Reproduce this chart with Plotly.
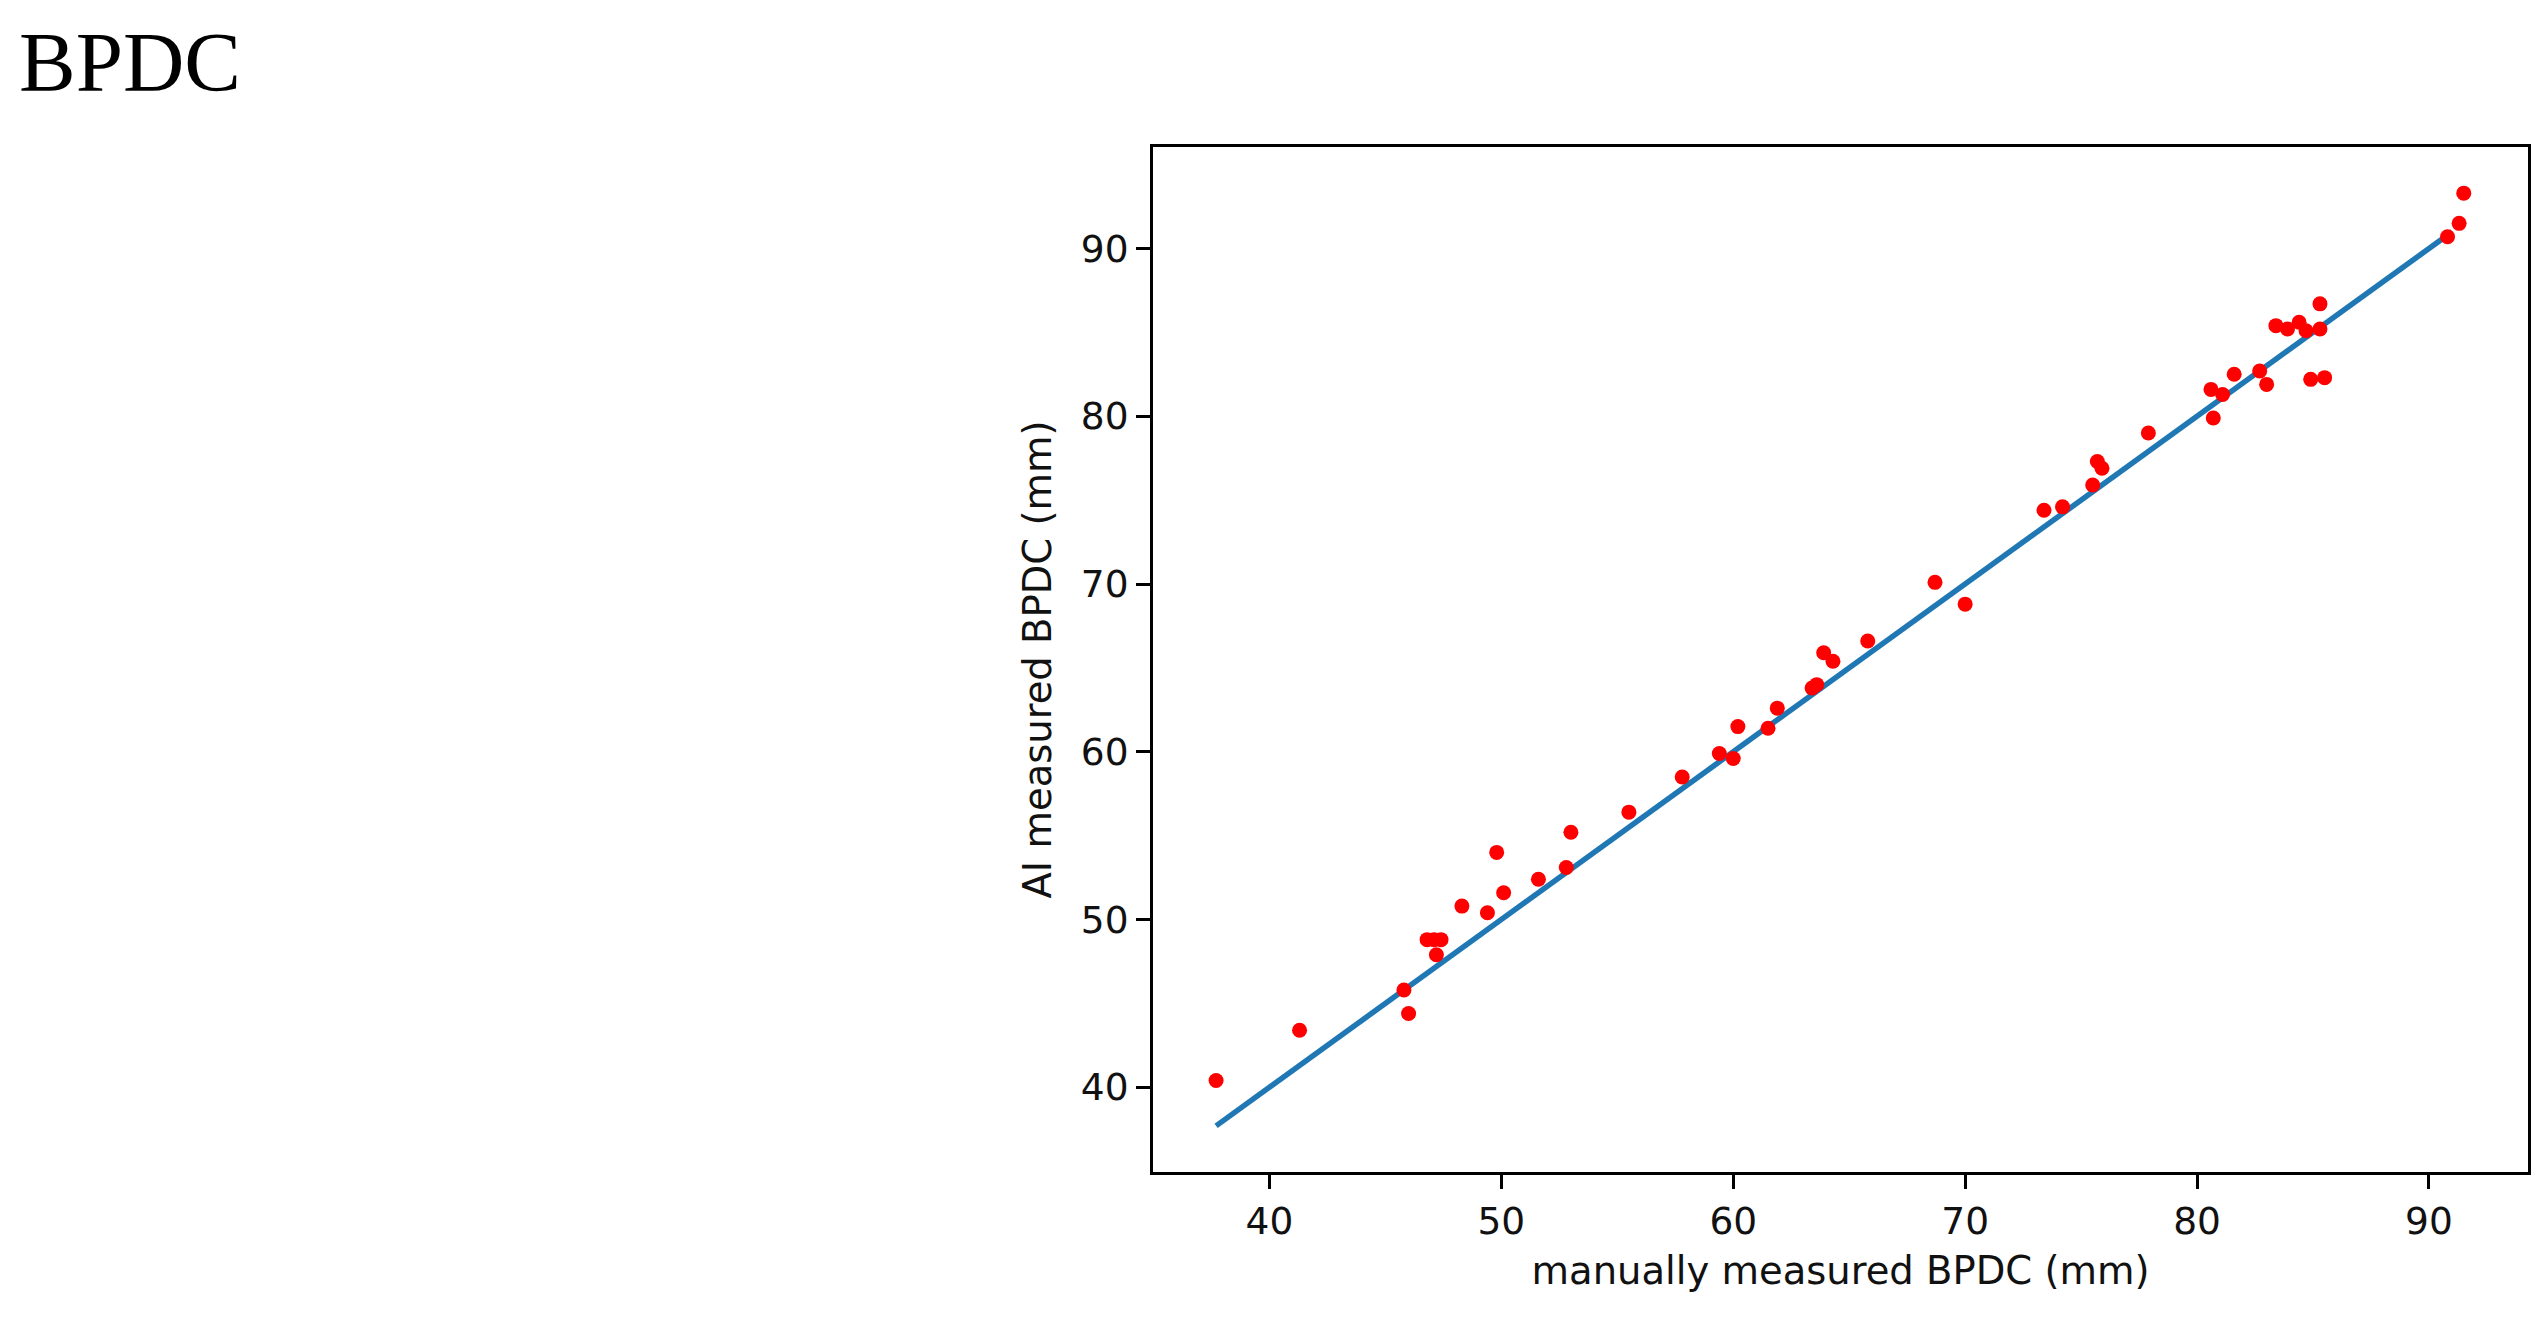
import plotly.graph_objects as go

# manually measured BPDC (mm)
manual_bpdc = [
    37.7, 41.3, 45.8, 46.0, 46.8, 47.1, 47.4, 47.2, 48.3, 49.4,
    49.8, 50.1, 51.6, 52.8, 53.0, 55.5, 57.8, 59.4, 60.0, 60.2,
    61.5, 61.9, 63.4, 63.6, 63.9, 64.3, 65.8, 68.7, 70.0, 73.4,
    74.2, 75.5, 75.7, 75.9, 77.9, 80.6, 80.7, 81.1, 81.6, 82.7,
    83.0, 83.4, 83.9, 84.4, 84.7, 84.9, 85.3, 85.3, 85.5, 90.8,
    91.3, 91.5,
]
# AI measured BPDC (mm)
ai_bpdc = [
    40.4, 43.4, 45.8, 44.4, 48.8, 48.8, 48.8, 47.9, 50.8, 50.4,
    54.0, 51.6, 52.4, 53.1, 55.2, 56.4, 58.5, 59.9, 59.6, 61.5,
    61.4, 62.6, 63.8, 64.0, 65.9, 65.4, 66.6, 70.1, 68.8, 74.4,
    74.6, 75.9, 77.3, 76.9, 79.0, 81.6, 79.9, 81.3, 82.5, 82.7,
    81.9, 85.4, 85.2, 85.6, 85.1, 82.2, 86.7, 85.2, 82.3, 90.7,
    91.5, 93.3,
]
# identity line
line_x = [37.7, 91.0]
line_y = [37.7, 91.0]

ticks = [40, 50, 60, 70, 80, 90]

# page body has an 8px margin, so the figure is 16px smaller than the window
W, H = 2532, 1315
L, R, T, B = 1145, 9, 139, 151

fig = go.Figure()
fig.add_trace(go.Scatter(
    x=line_x, y=line_y, mode="lines",
    line=dict(color="#1f77b4", width=5.5),
    showlegend=False,
))
fig.add_trace(go.Scatter(
    x=manual_bpdc, y=ai_bpdc, mode="markers",
    marker=dict(color="#ff0000", size=15, line=dict(width=0)),
    showlegend=False,
))

axis_style = dict(
    showgrid=False, zeroline=False,
    showline=True, mirror=True, linecolor="black", linewidth=3,
    ticks="outside", ticklen=14, tickwidth=3, tickcolor="black",
    tickvals=ticks,
    tickfont=dict(family="DejaVu Sans", size=37.5, color="#111"),
)
title_font = dict(family="DejaVu Sans", size=38.5, color="#111")

fig.update_layout(
    width=W, height=H,
    margin=dict(l=L, r=R, t=T, b=B),
    paper_bgcolor="white", plot_bgcolor="white",
    title=dict(
        text="BPDC", xref="container", yref="container",
        x=11 / W, xanchor="left", y=1 - 23 / H, yanchor="top",
        font=dict(family="Liberation Serif", size=85, color="black"),
    ),
    xaxis=dict(
        range=[34.98, 94.27],
        title=dict(text="manually measured BPDC (mm)", standoff=16,
                   font=title_font),
        **axis_style,
    ),
    yaxis=dict(
        range=[34.95, 96.05],
        title=dict(text="AI measured BPDC (mm)", standoff=18,
                   font=title_font),
        **axis_style,
    ),
)

fig.write_html("out.html")
